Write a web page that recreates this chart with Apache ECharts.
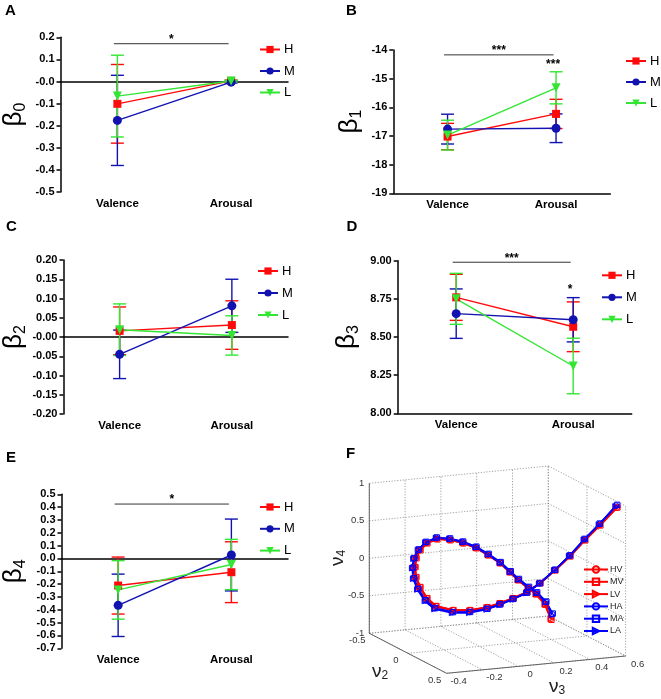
<!DOCTYPE html>
<html><head><meta charset="utf-8">
<script src="https://cdn.jsdelivr.net/npm/echarts@6/dist/echarts.min.js"></script>
<style>html,body{margin:0;padding:0;background:#fff}#c{width:661px;height:699px}</style>
</head><body><div id="c"></div>
<script>
// ---------------- DATA ----------------
const categories = ['Valence', 'Arousal'];
const groupNames = ['H', 'M', 'L'];

// Panel A (beta0): means and SEM
const A_H = [-0.101, 0.003], A_M = [-0.176, -0.003], A_L = [-0.066, 0.002];
const A_H_sem = [0.178, 0.004], A_M_sem = [0.204, 0.004], A_L_sem = [0.185, 0.004];
const A_ticks = ['-0.5', '-0.4', '-0.3', '-0.2', '-0.1', '-0.0', '0.1', '0.2'];
const A_sigBars = [[0, 1, 0.171]], A_sigBarText = ['*'];
const A_sigMarks = [], A_sigMarkText = [];

// Panel B (beta1)
const B_H = [-17.02, -16.23], B_M = [-16.76, -16.73], B_L = [-16.97, -15.32];
const B_H_sem = [0.46, 0.51], B_M_sem = [0.52, 0.50], B_L_sem = [0.52, 0.56];
const B_ticks = ['-19', '-18', '-17', '-16', '-15', '-14'];
const B_sigBars = [[0, 1, -14.17]], B_sigBarText = ['***'];
const B_sigMarks = [[1, -14.45]], B_sigMarkText = ['***'];

// Panel C (beta2)
const C_H = [0.016, 0.031], C_M = [-0.045, 0.081], C_L = [0.019, 0.004];
const C_H_sem = [0.062, 0.063], C_M_sem = [0.063, 0.069], C_L_sem = [0.067, 0.051];
const C_ticks = ['-0.20', '-0.15', '-0.10', '-0.05', '-0.00', '0.05', '0.10', '0.15', '0.20'];
const C_sigBars = [], C_sigBarText = [];
const C_sigMarks = [], C_sigMarkText = [];

// Panel D (beta3)
const D_H = [8.76, 8.567], D_M = [8.653, 8.613], D_L = [8.75, 8.31];
const D_H_sem = [0.151, 0.163], D_M_sem = [0.162, 0.145], D_L_sem = [0.167, 0.182];
const D_ticks = ['8.00', '8.25', '8.50', '8.75', '9.00'];
const D_sigBars = [[0, 1, 8.99]], D_sigBarText = ['***'];
const D_sigMarks = [[1, 8.82]], D_sigMarkText = ['*'];

// Panel E (beta4)
const E_H = [-0.211, -0.107], E_M = [-0.365, 0.027], E_L = [-0.245, -0.047];
const E_H_sem = [0.222, 0.237], E_M_sem = [0.243, 0.28], E_L_sem = [0.228, 0.196];
const E_ticks = ['-0.7', '-0.6', '-0.5', '-0.4', '-0.3', '-0.2', '-0.1', '0.0', '0.1', '0.2', '0.3', '0.4', '0.5'];
const E_sigBars = [[0, 1, 0.424]], E_sigBarText = ['*'];
const E_sigMarks = [], E_sigMarkText = [];

// Panel F: 3-D trajectories (nu2, nu3, nu4)
const v2Ticks = [-0.5, 0, 0.5];
const v3Ticks = [-0.4, -0.2, 0, 0.2, 0.4, 0.6];
const v4Ticks = [-1, -0.5, 0, 0.5, 1];
const curveV2 = [0.45,0.40,0.33,0.26,0.19,0.12,0.05,-0.02,-0.09,-0.15,-0.21,-0.26,-0.30,-0.32,-0.33,-0.33,-0.32,-0.30,-0.27,-0.23,-0.18,-0.12,-0.06,0.00,0.06,0.12,0.18,0.24,0.29,0.33,0.37,0.40];
const HV_v3 = [0.205,0.193,0.173,0.159,0.133,0.118,0.093,0.056,0.019,-0.028,-0.074,-0.126,-0.164,-0.194,-0.212,-0.218,-0.217,-0.203,-0.177,-0.144,-0.070,-0.002,0.068,0.114,0.161,0.213,0.260,0.318,0.380,0.446,0.513,0.595];
const HV_v4 = [-0.440,-0.267,-0.165,-0.120,-0.044,0.028,0.117,0.195,0.260,0.305,0.324,0.323,0.256,0.159,0.051,-0.067,-0.196,-0.321,-0.459,-0.551,-0.595,-0.579,-0.523,-0.448,-0.360,-0.260,-0.119,0.073,0.272,0.492,0.697,0.925];
const MV_v3 = [0.207,0.195,0.175,0.160,0.135,0.119,0.094,0.058,0.021,-0.026,-0.072,-0.124,-0.162,-0.192,-0.210,-0.216,-0.215,-0.201,-0.175,-0.142,-0.068,0.000,0.070,0.116,0.163,0.215,0.262,0.320,0.382,0.448,0.515,0.597];
const MV_v4 = [-0.452,-0.275,-0.170,-0.125,-0.048,0.024,0.113,0.190,0.256,0.300,0.320,0.318,0.252,0.156,0.048,-0.070,-0.198,-0.323,-0.461,-0.553,-0.597,-0.581,-0.526,-0.452,-0.364,-0.264,-0.123,0.068,0.267,0.487,0.692,0.928];
const LV_v3 = [0.203,0.191,0.171,0.157,0.131,0.116,0.091,0.054,0.017,-0.030,-0.076,-0.128,-0.167,-0.197,-0.215,-0.221,-0.220,-0.206,-0.180,-0.147,-0.073,-0.005,0.065,0.112,0.159,0.211,0.258,0.316,0.378,0.444,0.511,0.592];
const LV_v4 = [-0.440,-0.270,-0.168,-0.122,-0.046,0.027,0.118,0.197,0.263,0.309,0.329,0.328,0.260,0.161,0.052,-0.068,-0.199,-0.326,-0.465,-0.558,-0.602,-0.586,-0.528,-0.452,-0.363,-0.262,-0.121,0.071,0.270,0.490,0.695,0.930];
const HA_v3 = [0.212,0.198,0.177,0.162,0.136,0.120,0.094,0.057,0.019,-0.029,-0.076,-0.129,-0.170,-0.203,-0.224,-0.231,-0.230,-0.215,-0.186,-0.150,-0.073,-0.003,0.068,0.114,0.161,0.212,0.258,0.316,0.378,0.443,0.510,0.590];
const HA_v4 = [-0.380,-0.240,-0.150,-0.110,-0.036,0.034,0.124,0.205,0.272,0.320,0.340,0.338,0.268,0.165,0.050,-0.075,-0.210,-0.345,-0.488,-0.580,-0.624,-0.606,-0.548,-0.468,-0.375,-0.270,-0.124,0.073,0.277,0.502,0.712,0.955];
const MA_v3 = [0.214,0.200,0.179,0.164,0.138,0.122,0.096,0.059,0.021,-0.027,-0.074,-0.127,-0.168,-0.201,-0.222,-0.229,-0.228,-0.213,-0.184,-0.148,-0.071,-0.001,0.070,0.116,0.163,0.214,0.260,0.318,0.380,0.445,0.512,0.596];
const MA_v4 = [-0.372,-0.236,-0.146,-0.106,-0.032,0.038,0.128,0.209,0.276,0.324,0.344,0.342,0.272,0.168,0.052,-0.074,-0.208,-0.343,-0.486,-0.578,-0.622,-0.604,-0.546,-0.466,-0.372,-0.267,-0.120,0.077,0.281,0.506,0.716,0.962];
const LA_v3 = [0.210,0.196,0.175,0.160,0.134,0.118,0.092,0.055,0.017,-0.031,-0.078,-0.131,-0.173,-0.206,-0.227,-0.234,-0.233,-0.218,-0.189,-0.153,-0.076,-0.006,0.065,0.111,0.158,0.209,0.255,0.313,0.375,0.440,0.507,0.587];
const LA_v4 = [-0.390,-0.246,-0.155,-0.114,-0.040,0.030,0.120,0.202,0.270,0.318,0.338,0.336,0.266,0.163,0.046,-0.080,-0.216,-0.352,-0.496,-0.590,-0.634,-0.616,-0.556,-0.474,-0.380,-0.275,-0.128,0.068,0.272,0.496,0.704,0.945];

// ---------------- STYLE / LAYOUT ----------------
const FONT = '"Liberation Sans", Arial, sans-serif';
const COL = {H: '#ff0a0a', M: '#1212b0', L: '#33e633'};
const SYM = {H: {symbol: 'rect', rot: 0, size: 8}, M: {symbol: 'circle', rot: 0, size: 9}, L: {symbol: 'triangle', rot: 180, size: 9}};

const panels = [
  {key: 'A', sub: '0', means: [A_H, A_M, A_L], sems: [A_H_sem, A_M_sem, A_L_sem], ticks: A_ticks, min: -0.5, max: 0.2, interval: 0.1,
   sigBars: A_sigBars, sigBarText: A_sigBarText, sigMarks: A_sigMarks, sigMarkText: A_sigMarkText,
   grid: {left: 56, top: 37.3, width: 232, height: 154.7}, nameGap: 32, legend: {left: 259, top: 43, gap: 8.5}, letter: [11, 11.7]},
  {key: 'B', sub: '1', means: [B_H, B_M, B_L], sems: [B_H_sem, B_M_sem, B_L_sem], ticks: B_ticks, min: -19, max: -14, interval: 1,
   sigBars: B_sigBars, sigBarText: B_sigBarText, sigMarks: B_sigMarks, sigMarkText: B_sigMarkText,
   grid: {left: 393.3, top: 50, width: 217, height: 143.3}, nameGap: 29, legend: {left: 625, top: 54.5, gap: 8}, letter: [352, 11.3]},
  {key: 'C', sub: '2', means: [C_H, C_M, C_L], sems: [C_H_sem, C_M_sem, C_L_sem], ticks: C_ticks, min: -0.2, max: 0.2, interval: 0.05,
   sigBars: C_sigBars, sigBarText: C_sigBarText, sigMarks: C_sigMarks, sigMarkText: C_sigMarkText,
   grid: {left: 55, top: 260, width: 233, height: 154}, nameGap: 32, legend: {left: 257, top: 264.5, gap: 9}, letter: [12, 227]},
  {key: 'D', sub: '3', means: [D_H, D_M, D_L], sems: [D_H_sem, D_M_sem, D_L_sem], ticks: D_ticks, min: 8, max: 9, interval: 0.25,
   sigBars: D_sigBars, sigBarText: D_sigBarText, sigMarks: D_sigMarks, sigMarkText: D_sigMarkText,
   grid: {left: 397.7, top: 260.7, width: 234, height: 152.6}, nameGap: 36, legend: {left: 601, top: 268.8, gap: 9}, letter: [352.5, 227]},
  {key: 'E', sub: '4', means: [E_H, E_M, E_L], sems: [E_H_sem, E_M_sem, E_L_sem], ticks: E_ticks, min: -0.7, max: 0.5, interval: 0.1,
   sigBars: E_sigBars, sigBarText: E_sigBarText, sigMarks: E_sigMarks, sigMarkText: E_sigMarkText,
   grid: {left: 56, top: 494.3, width: 232, height: 154}, nameGap: 33, legend: {left: 259, top: 500.5, gap: 8.8}, letter: [12, 458]}
];

const grids = [], xAxes = [], yAxes = [], series = [], legends = [], graphics = [];

function errRender(params, api) {
  const x = api.value(0), lo = api.value(1), hi = api.value(2);
  const p1 = api.coord([x, hi]), p2 = api.coord([x, lo]);
  const w = 6.5;
  const style = {stroke: api.visual('color'), lineWidth: 1.4, fill: null};
  return {type: 'group', children: [
    {type: 'line', shape: {x1: p1[0], y1: p1[1], x2: p2[0], y2: p2[1]}, style: style},
    {type: 'line', shape: {x1: p1[0] - w, y1: p1[1], x2: p1[0] + w, y2: p1[1]}, style: style},
    {type: 'line', shape: {x1: p2[0] - w, y1: p2[1], x2: p2[0] + w, y2: p2[1]}, style: style}
  ]};
}

panels.forEach((p, pi) => {
  grids.push(Object.assign({containLabel: false}, p.grid));
  xAxes.push({
    type: 'category', gridIndex: pi, data: categories, boundaryGap: true,
    axisLine: {lineStyle: {color: '#000', width: 1.5}},
    axisTick: {alignWithLabel: true, length: 4, lineStyle: {color: '#000', width: 1.5}},
    axisLabel: {color: '#000', fontFamily: FONT, fontWeight: 'bold', fontSize: 11.5, margin: 6},
    splitLine: {show: false}
  });
  yAxes.push({
    type: 'value', gridIndex: pi, min: p.min, max: p.max, interval: p.interval,
    axisLine: {show: true, lineStyle: {color: '#000', width: 1.5}},
    axisTick: {show: true, length: 4, lineStyle: {color: '#000', width: 1.5}},
    axisLabel: {color: '#000', fontFamily: FONT, fontWeight: 'bold', fontSize: 11, margin: 6,
      formatter: (v, i) => p.ticks[i]},
    splitLine: {show: false},
    name: '{b|β}{s|' + p.sub + '}', nameLocation: 'middle', nameRotate: 90, nameGap: p.nameGap,
    nameTextStyle: {rich: {
      b: {fontSize: 26, fontFamily: FONT, color: '#000', lineHeight: 29},
      s: {fontSize: 16, fontFamily: FONT, color: '#000', lineHeight: 16, verticalAlign: 'bottom'}
    }}
  });
  groupNames.forEach((g, gi) => {
    const mean = p.means[gi], sem = p.sems[gi];
    series.push({
      type: 'custom', name: g + '_err', xAxisIndex: pi, yAxisIndex: pi, renderItem: errRender,
      itemStyle: {color: COL[g]}, z: 2, silent: true,
      data: categories.map((c, i) => [i, mean[i] - sem[i], mean[i] + sem[i]])
    });
    series.push({
      type: 'line', name: g, xAxisIndex: pi, yAxisIndex: pi, data: mean,
      symbol: SYM[g].symbol, symbolSize: SYM[g].size, symbolRotate: SYM[g].rot,
      lineStyle: {color: COL[g], width: 1.4}, itemStyle: {color: COL[g]}, z: 3,
      animation: false
    });
  });
  // significance brackets
  if (p.sigBars.length) {
    series.push({
      type: 'custom', name: 'sig' + p.key, xAxisIndex: pi, yAxisIndex: pi, silent: true, z: 4,
      data: p.sigBars,
      renderItem: (params, api) => {
        const a = api.coord([api.value(0), api.value(2)]);
        const b = api.coord([api.value(1), api.value(2)]);
        return {type: 'group', children: [
          {type: 'line', shape: {x1: a[0] - 3.5, y1: a[1], x2: b[0] - 2.5, y2: b[1]}, style: {stroke: '#333', lineWidth: 1}},
          {type: 'text', style: {text: p.sigBarText[params.dataIndex], x: (a[0] + b[0]) / 2 - 3, y: a[1] + 2,
            align: 'center', verticalAlign: 'bottom', font: 'bold 12px ' + FONT, fill: '#000'}}
        ]};
      }
    });
  }
  if (p.sigMarks.length) {
    series.push({
      type: 'custom', name: 'sigm' + p.key, xAxisIndex: pi, yAxisIndex: pi, silent: true, z: 4,
      data: p.sigMarks,
      renderItem: (params, api) => {
        const a = api.coord([api.value(0), api.value(1)]);
        return {type: 'text', style: {text: p.sigMarkText[params.dataIndex], x: a[0] - 3, y: a[1] + 8,
          align: 'center', verticalAlign: 'bottom', font: 'bold 12px ' + FONT, fill: '#000'}};
      }
    });
  }
  legends.push({
    orient: 'vertical', left: p.legend.left, top: p.legend.top, itemWidth: 20, itemHeight: 9, itemGap: p.legend.gap,
    data: groupNames, selectedMode: false, padding: 0,
    textStyle: {fontFamily: FONT, fontSize: 13, color: '#000', padding: [0, 0, 0, -1]}
  });
  graphics.push({type: 'text', left: p.letter[0] - 6, top: p.letter[1] - 8,
    style: {text: p.key, font: 'bold 15px ' + FONT, fill: '#000'}});
});

// ---------------- PANEL F (3-D view projected through a hidden cartesian) ----------------
// view basis: screen-plane displacement for a full-range move along each axis (projected units)
const VIEW = {e2: [77.3, -40], e3: [179, 17.3], e4: [0, 150], v2min: -0.5, v2span: 1, v3min: -0.4, v3span: 1, v4min: -1, v4span: 2};
function proj(v2, v3, v4) {
  const a = (v2 - VIEW.v2min) / VIEW.v2span, b = (v3 - VIEW.v3min) / VIEW.v3span, c = (v4 - VIEW.v4min) / VIEW.v4span;
  return [a * VIEW.e2[0] + b * VIEW.e3[0] + c * VIEW.e4[0], a * VIEW.e2[1] + b * VIEW.e3[1] + c * VIEW.e4[1]];
}
const FI = panels.length;
grids.push({left: 369.3, top: 466, width: 256.3, height: 207.3, containLabel: false});
xAxes.push({type: 'value', gridIndex: FI, min: 0, max: 256.3, show: false});
yAxes.push({type: 'value', gridIndex: FI, min: -40, max: 167.3, show: false});

const v2lo = v2Ticks[0], v2hi = v2Ticks[v2Ticks.length - 1];
const v3lo = v3Ticks[0], v3hi = v3Ticks[v3Ticks.length - 1];
const v4lo = v4Ticks[0], v4hi = v4Ticks[v4Ticks.length - 1];
const gridSegs = [];
v3Ticks.forEach(t => gridSegs.push(proj(v2lo, t, v4lo).concat(proj(v2lo, t, v4hi))));
v4Ticks.forEach(t => gridSegs.push(proj(v2lo, v3lo, t).concat(proj(v2lo, v3hi, t))));
v2Ticks.forEach(t => gridSegs.push(proj(t, v3hi, v4lo).concat(proj(t, v3hi, v4hi))));
v4Ticks.forEach(t => gridSegs.push(proj(v2lo, v3hi, t).concat(proj(v2hi, v3hi, t))));
v3Ticks.forEach(t => gridSegs.push(proj(v2lo, t, v4lo).concat(proj(v2hi, t, v4lo))));
v2Ticks.forEach(t => gridSegs.push(proj(t, v3lo, v4lo).concat(proj(t, v3hi, v4lo))));
const axisSegs = [
  proj(v2lo, v3lo, v4lo).concat(proj(v2lo, v3lo, v4hi)),
  proj(v2lo, v3lo, v4lo).concat(proj(v2hi, v3lo, v4lo)),
  proj(v2hi, v3lo, v4lo).concat(proj(v2hi, v3hi, v4lo))
];
function segRender(style) {
  return (params, api) => {
    const a = api.coord([api.value(0), api.value(1)]), b = api.coord([api.value(2), api.value(3)]);
    return {type: 'line', shape: {x1: a[0], y1: a[1], x2: b[0], y2: b[1]}, style: style};
  };
}
series.push({type: 'custom', name: 'fgrid', xAxisIndex: FI, yAxisIndex: FI, silent: true, z: 1, data: gridSegs,
  renderItem: segRender({stroke: '#8a8a8a', lineWidth: 0.8, lineDash: [1.2, 1.6]})});
series.push({type: 'custom', name: 'faxis', xAxisIndex: FI, yAxisIndex: FI, silent: true, z: 1, data: axisSegs,
  renderItem: segRender({stroke: '#555', lineWidth: 0.9})});

// tick labels
const tickLabels = [];
v4Ticks.forEach(t => tickLabels.push({pt: proj(v2lo, v3lo, t), text: String(t), dx: -5, dy: 0, align: 'right'}));
v2Ticks.forEach(t => tickLabels.push({pt: proj(t, v3lo, v4lo), text: String(t), dx: -12, dy: 7, align: 'center'}));
v3Ticks.forEach(t => tickLabels.push({pt: proj(v2hi, t, v4lo), text: String(t), dx: 12, dy: 8, align: 'center'}));
series.push({type: 'custom', name: 'fticks', xAxisIndex: FI, yAxisIndex: FI, silent: true, z: 1,
  data: tickLabels.map(t => t.pt),
  renderItem: (params, api) => {
    const t = tickLabels[params.dataIndex];
    const a = api.coord([api.value(0), api.value(1)]);
    return {type: 'text', style: {text: t.text, x: a[0] + t.dx, y: a[1] + t.dy, align: t.align, verticalAlign: 'middle',
      font: '9.5px ' + FONT, fill: '#333'}};
  }});

const fSeries = [
  {name: 'HV', v3: HV_v3, v4: HV_v4, color: '#ff0000', symbol: 'circle', rot: 0},
  {name: 'MV', v3: MV_v3, v4: MV_v4, color: '#ff0000', symbol: 'rect', rot: 0},
  {name: 'LV', v3: LV_v3, v4: LV_v4, color: '#ff0000', symbol: 'triangle', rot: -90},
  {name: 'HA', v3: HA_v3, v4: HA_v4, color: '#0000ff', symbol: 'circle', rot: 0},
  {name: 'MA', v3: MA_v3, v4: MA_v4, color: '#0000ff', symbol: 'rect', rot: 0},
  {name: 'LA', v3: LA_v3, v4: LA_v4, color: '#0000ff', symbol: 'triangle', rot: -90}
];
fSeries.forEach(s => {
  series.push({
    type: 'line', name: s.name, xAxisIndex: FI, yAxisIndex: FI, z: 3, animation: false,
    data: s.v3.map((v, i) => proj(curveV2[i], v, s.v4[i])),
    symbol: s.symbol, symbolSize: 5.5, symbolRotate: s.rot, showAllSymbol: true,
    lineStyle: {color: s.color, width: 1.6},
    itemStyle: {color: 'rgba(255,255,255,0)', borderColor: s.color, borderWidth: 1}
  });
});
legends.push({
  orient: 'vertical', left: 583, top: 565, itemWidth: 24, itemHeight: 8, itemGap: 3.3, padding: 0,
  data: fSeries.map(s => s.name), selectedMode: false,
  textStyle: {fontFamily: FONT, fontSize: 9, color: '#222', padding: [0, 0, 0, -3]}
});
graphics.push({type: 'text', left: 346, top: 446, style: {text: 'F', font: 'bold 15px ' + FONT, fill: '#000'}});
// 3-D axis titles
graphics.push({type: 'text', x: 338, y: 558, rotation: Math.PI / 2,
  style: {text: '{n|ν}{s|4}', align: 'center', verticalAlign: 'middle',
    rich: {n: {fontSize: 19, fontFamily: FONT, fill: '#222', lineHeight: 20}, s: {fontSize: 12, fontFamily: FONT, fill: '#222', verticalAlign: 'bottom', lineHeight: 12}}}});
graphics.push({type: 'text', x: 380, y: 672,
  style: {text: '{n|ν}{s|2}', align: 'center', verticalAlign: 'middle',
    rich: {n: {fontSize: 19, fontFamily: FONT, fill: '#222', lineHeight: 20}, s: {fontSize: 12, fontFamily: FONT, fill: '#222', verticalAlign: 'bottom', lineHeight: 12}}}});
graphics.push({type: 'text', x: 557, y: 687,
  style: {text: '{n|ν}{s|3}', align: 'center', verticalAlign: 'middle',
    rich: {n: {fontSize: 19, fontFamily: FONT, fill: '#222', lineHeight: 20}, s: {fontSize: 12, fontFamily: FONT, fill: '#222', verticalAlign: 'bottom', lineHeight: 12}}}});

const chart = echarts.init(document.getElementById('c'), null, {renderer: 'canvas'});
chart.setOption({
  backgroundColor: '#fff',
  animation: false,
  grid: grids, xAxis: xAxes, yAxis: yAxes, series: series, legend: legends,
  graphic: graphics
});
</script></body></html>
